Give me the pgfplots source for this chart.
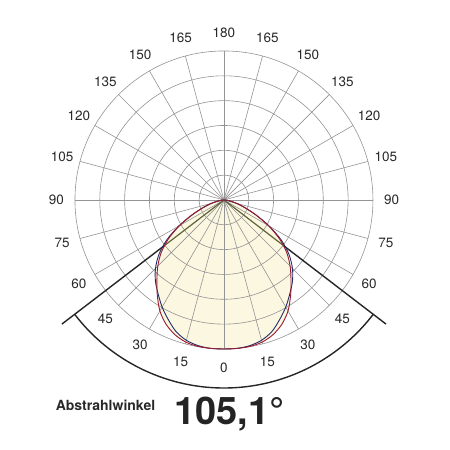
\documentclass[border=0pt]{standalone}
\usepackage{pgfplots}
\pgfplotsset{compat=1.18}
\usepackage{pgfplotstable}
\usepackage{fontspec}
\setmainfont{TeX Gyre Heros}
\definecolor{gridc}{RGB}{148,148,148}
\definecolor{labc}{RGB}{40,40,40}
\definecolor{fillc}{RGB}{251,247,225}
\definecolor{redc}{RGB}{155,25,45}
\definecolor{bluec}{RGB}{35,45,105}
\definecolor{olivec}{RGB}{95,100,55}

\pgfplotstableread{
a r
-90 0
-85 0.018
-80 0.045
-75 0.09
-70 0.15
-65 0.235
-60 0.345
-55 0.455
-50 0.55
-45 0.628
-40 0.70
-35 0.78
-30 0.86
-25 0.92
-20 0.962
-15 0.988
-10 0.998
-5 1.0
0 1.0
5 1.0
10 0.998
15 0.988
20 0.962
25 0.92
30 0.86
35 0.78
40 0.70
45 0.628
50 0.55
55 0.455
60 0.345
65 0.235
70 0.15
75 0.09
80 0.045
85 0.018
90 0
}\redtab

\pgfplotstableread{
a r
-90 0
-85 0.015
-80 0.04
-75 0.085
-70 0.145
-65 0.235
-60 0.35
-55 0.47
-50 0.57
-45 0.65
-40 0.715
-35 0.77
-30 0.83
-25 0.885
-20 0.94
-15 0.975
-10 0.993
-5 1.0
0 1.0
5 1.0
10 0.993
15 0.975
20 0.94
25 0.885
30 0.83
35 0.77
40 0.715
45 0.65
50 0.57
55 0.47
60 0.35
65 0.235
70 0.145
75 0.085
80 0.04
85 0.015
90 0
}\bluetab

\begin{document}
\begin{tikzpicture}
\begin{axis}[
  scale only axis, width=450pt, height=450pt,
  xmin=-1.503, xmax=1.517, ymin=-1.678, ymax=1.342,
  hide axis, clip=false,
]
\path (axis cs:-1.503,-1.678) rectangle (axis cs:1.517,1.342);
% fill
\addplot[fill=fillc, draw=none, smooth, data cs=polar] table[x expr=\thisrow{a}+270, y=r] {\redtab} -- cycle;
% grid
\pgfplotsinvokeforeach{1,...,6}{
  \draw[gridc, line width=0.6pt] (axis cs:0,0) circle[radius=#1*24.834pt];
}
\pgfplotsinvokeforeach{0,15,...,345}{
  \draw[gridc, line width=0.6pt] (axis cs:0,0) -- (axis cs:{cos(#1)},{sin(#1)});
}
% labels
\pgfplotsinvokeforeach{0,15,...,180}{
  \node[text=labc, font=\fontsize{13.5}{15}\selectfont, inner sep=0pt] at (axis cs:{1.125*cos(270-#1)},{1.125*sin(270-#1)}) {#1};
}
\pgfplotsinvokeforeach{15,30,...,165}{
  \node[text=labc, font=\fontsize{13.5}{15}\selectfont, inner sep=0pt] at (axis cs:{1.125*cos(270+#1)},{1.125*sin(270+#1)}) {#1};
}
% beam angle lines
\draw[black!85, line width=1.4pt] (axis cs:{0.5*cos(217.45)},{0.5*sin(217.45)}) -- (axis cs:{1.37*cos(217.45)},{1.37*sin(217.45)});
\draw[black!85, line width=1.4pt] (axis cs:{0.5*cos(322.55)},{0.5*sin(322.55)}) -- (axis cs:{1.37*cos(322.55)},{1.37*sin(322.55)});
\draw[olivec, line width=1.2pt] (axis cs:0,0) -- (axis cs:{0.5*cos(217.45)},{0.5*sin(217.45)});
\draw[olivec, line width=1.2pt] (axis cs:0,0) -- (axis cs:{0.5*cos(322.55)},{0.5*sin(322.55)});
\draw[black!85, line width=1.4pt] (axis cs:{1.262*cos(217.45)},{1.262*sin(217.45)}) arc[start angle=217.45, end angle=322.55, radius=188.05pt];
% curves
\addplot[bluec, line width=0.9pt, smooth, data cs=polar] table[x expr=\thisrow{a}+270, y=r] {\bluetab};
\addplot[redc, line width=0.9pt, smooth, data cs=polar] table[x expr=\thisrow{a}+270, y=r] {\redtab};
% bottom text
\node[anchor=west, inner sep=0pt, text=labc, font=\fontsize{14}{16}\selectfont\bfseries] at (axis cs:-1.13,-1.376) {Abstrahlwinkel};
\node[anchor=base west, inner sep=0pt, text=labc!90!black, font=\fontsize{38}{40}\selectfont\bfseries] at (axis cs:-0.335,-1.51) {105,1°};
\end{axis}
\end{tikzpicture}
\end{document}
